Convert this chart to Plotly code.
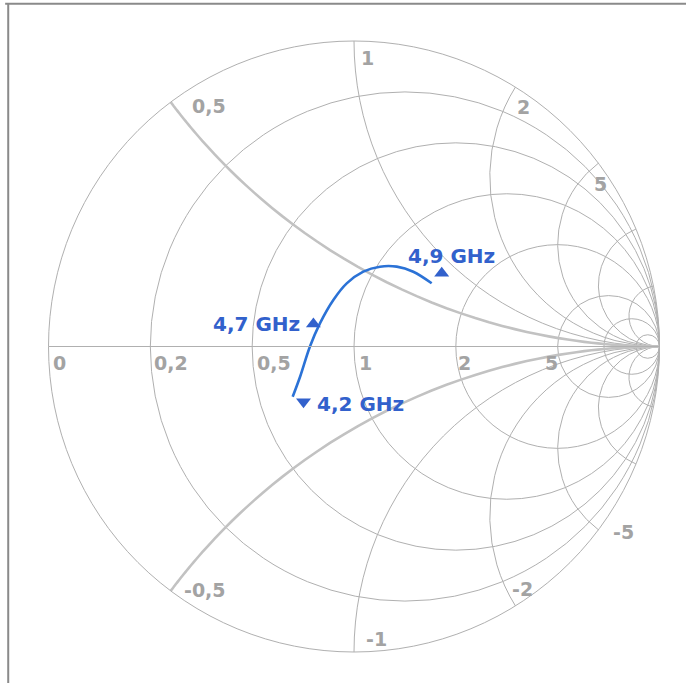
import plotly.graph_objects as go

# Reflection measurement, normalized impedance (z = r + jx)
sweep_real = [0.635, 0.688, 0.748, 0.791, 0.836, 0.877, 0.939, 1.021, 1.129, 1.272, 1.490]
sweep_imag = [-0.224, -0.142, 0.0, 0.122, 0.262, 0.379, 0.490, 0.577, 0.647, 0.690, 0.691]

# Frequency markers
marker_labels = ["4,2 GHz", "4,7 GHz", "4,9 GHz"]
marker_real = [0.676, 0.758, 1.521]
marker_imag = [-0.260, 0.114, 0.847]
marker_symbols = ["triangle-down", "triangle-up", "triangle-up"]

# Chart grid values and their labels
resistance_grid = [0.2, 0.5, 1, 2, 5, 10, 25]
reactance_grid = [-10, -5, -3, -1.8, -1, 1, 1.8, 3, 5, 10]
reactance_bold = [0.5, -0.5]
resistance_ticks = [0, 0.2, 0.5, 1, 2, 5]
resistance_ticktext = ["0", "0,2", "0,5", "1", "2", "5"]
reactance_ticks = [0.5, 1, 1.8, 3, -0.5, -1, -1.8, -3]
reactance_ticktext = ["0,5", "1", "2", "5", "-0,5", "-1", "-2", "-5"]

line_blue = "#2b72d6"
text_blue = "#3261cc"
grid_gray = "#b0b0b0"
label_gray = "#a3a3a3"
label_font = dict(family="DejaVu Sans", size=19, color=label_gray, weight="bold")
blue_font = dict(family="DejaVu Sans", size=20, color=text_blue, weight="bold")

W, H = 686, 683
M = dict(l=48, r=26, t=41, b=31)
PW, PH = W - M["l"] - M["r"], H - M["t"] - M["b"]
RAD = min(PW, PH) / 2


def to_paper(z):
    """Paper coordinates of a normalized impedance on the smith subplot."""
    g = (z - 1) / (z + 1)
    return 0.5 + g.real * RAD / PW, 0.5 + g.imag * RAD / PH


fig = go.Figure()

# heavier constant-reactance arcs at +/-0.5
r_sweep = [0] + [10 ** (k / 20) for k in range(-60, 81)]
for xv in reactance_bold:
    fig.add_trace(go.Scattersmith(
        real=r_sweep, imag=[xv] * len(r_sweep), mode="lines",
        line=dict(color="#c2c2c2", width=2.6), showlegend=False, hoverinfo="skip",
    ))

fig.add_trace(go.Scattersmith(
    real=sweep_real, imag=sweep_imag, mode="lines",
    line=dict(color=line_blue, width=2.6, shape="spline"),
    showlegend=False, hoverinfo="skip",
))
fig.add_trace(go.Scattersmith(
    real=marker_real, imag=marker_imag, mode="markers",
    marker=dict(symbol=marker_symbols, size=13, color=text_blue),
    text=marker_labels, hoverinfo="text", showlegend=False,
))

annotations = []
# resistance labels sit just below the real axis
res_place = [("left", 2), ("left", 2), ("left", 3), ("left", 3), ("left", 0), ("right", 2)]
for v, t, (anchor, dx) in zip(resistance_ticks, resistance_ticktext, res_place):
    x, y = to_paper(complex(v, 0))
    annotations.append(dict(x=x, y=y, xref="paper", yref="paper", text=t, showarrow=False,
                            xanchor=anchor, yanchor="middle", xshift=dx, yshift=-16,
                            font=label_font))
# reactance labels next to the ends of their arcs
reac_place = [("left", 19, -4), ("left", 5, -17), ("left", 0, -20), ("center", 2, -21),
              ("left", 11, 1), ("left", 10, 13), ("left", -5, 17), ("left", 13, -2)]
for v, t, (anchor, dx, dy) in zip(reactance_ticks, reactance_ticktext, reac_place):
    x, y = to_paper(complex(0, v))
    annotations.append(dict(x=x, y=y, xref="paper", yref="paper", text=t, showarrow=False,
                            xanchor=anchor, yanchor="middle", xshift=dx, yshift=dy,
                            font=label_font))
# frequency labels beside their markers
freq_place = [("left", 11, -2), ("right", -11, 0), ("center", 10, 17)]
for re_, im_, t, (anchor, dx, dy) in zip(marker_real, marker_imag, marker_labels, freq_place):
    x, y = to_paper(complex(re_, im_))
    annotations.append(dict(x=x, y=y, xref="paper", yref="paper", text=t, showarrow=False,
                            xanchor=anchor, yanchor="middle", xshift=dx, yshift=dy,
                            font=blue_font))

fig.update_layout(
    width=W, height=H,
    margin=M,
    paper_bgcolor="white",
    separators=", ",
    smith=dict(
        bgcolor="white",
        realaxis=dict(tickvals=resistance_grid, gridcolor=grid_gray, linecolor=grid_gray,
                      showticklabels=False, ticks=""),
        imaginaryaxis=dict(tickvals=reactance_grid, gridcolor=grid_gray, linecolor=grid_gray,
                           showticklabels=False, ticks=""),
    ),
    annotations=annotations,
    shapes=[
        dict(type="line", xref="paper", yref="paper", x0=-0.07, x1=1.05, y0=1.061, y1=1.061,
             line=dict(color="#8a8a8a", width=2)),
        dict(type="line", xref="paper", yref="paper", x0=-0.065, x1=-0.065, y0=-0.06, y1=1.061,
             line=dict(color="#8a8a8a", width=2)),
    ],
)

fig.write_html("out.html")
